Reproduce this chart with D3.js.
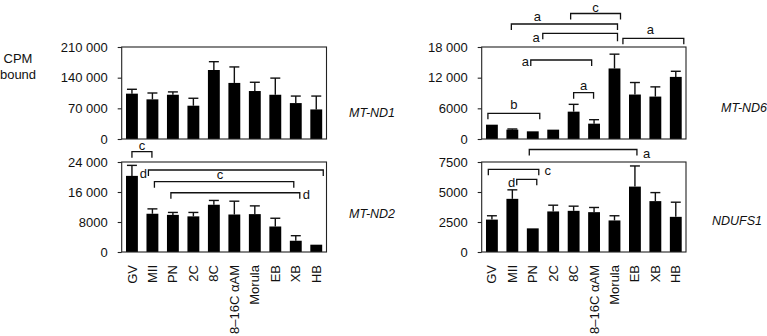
<!DOCTYPE html>
<html><head><meta charset="utf-8">
<script src="https://cdn.jsdelivr.net/npm/d3@7/dist/d3.min.js"></script>
<style>
body{margin:0;background:#fff;}
svg text{font-family:"Liberation Sans",Arial,Helvetica,sans-serif;fill:#111;}
</style>
</head><body>
<svg id="chart" width="767" height="336"></svg>
<script>
// ---------- data ----------
const stages = ["GV","MII","PN","2C","8C","8–16C αAM","Morula","EB","XB","HB"];

const mtND1Mean = [103500, 90500, 101000, 76000, 157500, 128000, 109500, 101000, 82000, 67500];
const mtND1Err  = [10000, 14500, 6500, 17000, 19000, 36500, 20000, 38000, 16000, 30500];
const mtND1Ticks = [0, 70000, 140000, 210000];

const mtND2Mean = [20300, 10200, 9900, 9500, 12600, 10000, 10100, 6800, 3000, 1950];
const mtND2Err  = [2800, 1300, 650, 1050, 1150, 3550, 2200, 2200, 1350, 0];
const mtND2Ticks = [0, 8000, 16000, 24000];

const mtND6Mean = [2800, 1830, 1500, 1830, 5350, 3000, 13800, 8700, 8300, 12150];
const mtND6Err  = [0, 130, 0, 0, 1430, 780, 2800, 2350, 1900, 1100];
const mtND6Ticks = [0, 6000, 12000, 18000];

const ndufs1Mean = [2700, 4430, 1970, 3380, 3430, 3320, 2630, 5450, 4240, 2930];
const ndufs1Err  = [320, 750, 0, 520, 390, 390, 390, 1720, 710, 1220];
const ndufs1Ticks = [0, 2500, 5000, 7500];

// significance brackets: from/to stage, level in the panel's value units, letter
const mtND2Brackets = [
  {from:"GV",  to:"MII", level:26750, label:"c", side:"top"},
  {from:"MII", to:"HB",  level:21870, label:"d", side:"left"},
  {from:"MII", to:"XB",  level:18750, label:"c", side:"top"},
  {from:"PN",  to:"XB",  level:15800, label:"d", side:"right"}
];
const mtND6Brackets = [
  {from:"GV",  to:"PN",        level:5030,  label:"b", side:"top"},
  {from:"8C",  to:"8–16C αAM", level:9060,  label:"a", side:"top"},
  {from:"PN",  to:"8–16C αAM", level:15460, label:"a", side:"left"},
  {from:"PN",  to:"Morula",    level:20680, label:"a", side:"left"},
  {from:"MII", to:"Morula",    level:22500, label:"a", side:"top"},
  {from:"8C",  to:"Morula",    level:24550, label:"c", side:"top"},
  {from:"EB",  to:"HB",        level:19700, label:"a", side:"top"}
];
const ndufs1Brackets = [
  {from:"PN", to:"EB", level:8540, label:"a", side:"right"},
  {from:"GV", to:"PN", level:6890, label:"c", side:"right"},
  {from:"MII",to:"PN", level:6060, label:"d", side:"left"}
];

// ---------- layout (annotation nudges, px) ----------
const bracketNudge = {
  "MT-ND2": [{d0:0,d1:-0.5,lx:0,ly:-2},{d0:-4,d1:7,lx:-1.5,ly:8},{d0:2,d1:-2,lx:-4,ly:-2.5},{d0:-2,d1:4,lx:3,ly:6.5}],
  "MT-ND6": [{d0:-4,d1:7,lx:0,ly:-4},{d0:0,d1:-0.5,lx:0,ly:-3},{d0:-2,d1:-2.4,lx:-1.7,ly:6},
             {d0:10,d1:3,lx:-3,ly:8.4,t1:8},{d0:-1,d1:3,lx:-27,ly:-3},{d0:-3,d1:6,lx:0,ly:-1.3},{d0:-12,d1:8,lx:-3,ly:-4}],
  "NDUFS1": [{d0:-3.5,d1:2,lx:6,ly:8},{d0:-3.6,d1:6,lx:5.7,ly:6},{d0:4.4,d1:4,lx:-1.4,ly:7.7}]
};

const panels = [
  {name:"MT-ND1", mean:mtND1Mean, err:mtND1Err, ticks:mtND1Ticks, col:0, row:0, brackets:[], gx:349, gy:117},
  {name:"MT-ND2", mean:mtND2Mean, err:mtND2Err, ticks:mtND2Ticks, col:0, row:1, brackets:mtND2Brackets, gx:349, gy:218},
  {name:"MT-ND6", mean:mtND6Mean, err:mtND6Err, ticks:mtND6Ticks, col:1, row:0, brackets:mtND6Brackets, gx:721, gy:112},
  {name:"NDUFS1", mean:ndufs1Mean, err:ndufs1Err, ticks:ndufs1Ticks, col:1, row:1, brackets:ndufs1Brackets, gx:712, gy:225}
];

const colsX = [[121.7, 326.5], [481.7, 686]];
const rowsY = [[139, 47], [252, 162]];
const FS = 13;

const svg = d3.select("#chart");
const fmt = v => v >= 10000 ? d3.format(",")(v).replace(/,/g, " ") : String(v);

// y-axis title
const title = svg.append("text").attr("font-size", FS).attr("text-anchor", "middle");
title.append("tspan").attr("x", 18).attr("y", 62.5).text("CPM");
title.append("tspan").attr("x", 18).attr("y", 79).text("bound");

panels.forEach(p => {
  const [x0, x1] = colsX[p.col];
  const [yb, yt] = rowsY[p.row];
  const maxV = p.ticks[p.ticks.length - 1];
  const x = d3.scaleBand().domain(stages).range([x0, x1]).paddingInner(0.42).paddingOuter(0.21);
  const y = d3.scaleLinear().domain([0, maxV]).range([yb, yt]);
  const g = svg.append("g");
  const bw = x.bandwidth();
  const cx = s => x(s) + bw / 2;

  // error bars (upper only)
  const eg = g.append("g").attr("stroke", "#111").attr("stroke-width", 1.4).attr("fill", "none");
  p.mean.forEach((m, i) => {
    const e = p.err[i];
    if (!e) return;
    const c = cx(stages[i]);
    eg.append("line").attr("x1", c).attr("x2", c).attr("y1", y(m)).attr("y2", y(m + e));
    eg.append("line").attr("x1", c - bw * 0.42).attr("x2", c + bw * 0.42).attr("y1", y(m + e)).attr("y2", y(m + e));
  });

  // bars
  g.append("g").selectAll("rect").data(p.mean).join("rect")
    .attr("x", (d, i) => x(stages[i]))
    .attr("y", d => y(d))
    .attr("width", bw)
    .attr("height", d => y(0) - y(d))
    .attr("fill", "#000");

  // frame
  g.append("rect").attr("x", x0).attr("y", yt).attr("width", x1 - x0).attr("height", yb - yt)
    .attr("fill", "none").attr("stroke", "#222").attr("stroke-width", 1.1);

  // y axis
  const ya = g.append("g").attr("transform", `translate(${x0},0)`)
    .call(d3.axisLeft(y).tickValues(p.ticks).tickSize(4).tickPadding(10).tickFormat(fmt));
  ya.select(".domain").remove();
  ya.selectAll("line").attr("stroke", "#222").attr("stroke-width", 1.1);
  ya.selectAll("text").attr("font-size", FS).attr("font-family", null).attr("fill", "#111");

  // x axis labels (bottom row only)
  if (p.row === 1) {
    const xa = g.append("g").attr("transform", `translate(0,${yb})`)
      .call(d3.axisBottom(x).tickSize(0).tickPadding(0));
    xa.select(".domain").remove();
    xa.selectAll("text").attr("font-size", FS).attr("font-family", null).attr("fill", "#111")
      .attr("transform", "rotate(-90)").attr("text-anchor", "end")
      .attr("x", -13).attr("y", 0).attr("dy", "0.35em");
  }

  // gene label
  g.append("text").attr("x", p.gx).attr("y", p.gy).attr("font-size", 12.5)
    .attr("font-style", "italic").text(p.name);

  // brackets
  const nudges = bracketNudge[p.name] || [];
  p.brackets.forEach((b, i) => {
    const n = nudges[i] || {d0:0, d1:0, lx:0, ly:0};
    const bx0 = cx(b.from) + n.d0, bx1 = cx(b.to) + n.d1, by = y(b.level);
    const t0 = 6, t1 = n.t1 || 6;
    g.append("path")
      .attr("d", `M${bx0},${by + t0}V${by}H${bx1}V${by + t1}`)
      .attr("fill", "none").attr("stroke", "#111").attr("stroke-width", 1.3);
    const t = g.append("text").attr("font-size", FS).text(b.label);
    if (b.side === "top") {
      t.attr("x", (bx0 + bx1) / 2 + n.lx).attr("y", by + n.ly).attr("text-anchor", "middle");
    } else if (b.side === "left") {
      t.attr("x", bx0 + n.lx).attr("y", by + n.ly).attr("text-anchor", "end");
    } else {
      t.attr("x", bx1 + n.lx).attr("y", by + n.ly).attr("text-anchor", "start");
    }
  });
});
</script>
</body></html>
